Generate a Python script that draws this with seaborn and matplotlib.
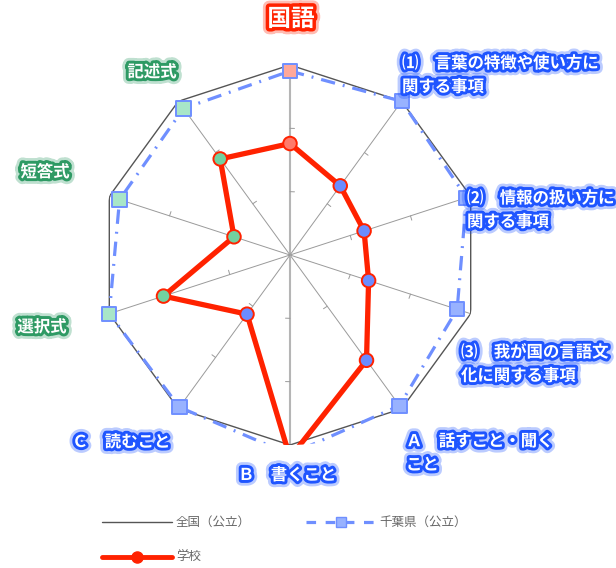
import numpy as np
import pandas as pd
import matplotlib
matplotlib.use("Agg")
import matplotlib.pyplot as plt
import matplotlib.patheffects as pe
from matplotlib.lines import Line2D
import seaborn as sns

# ================= DATOS =================
# ejes del radar (sentido horario desde arriba)
EJES = ["国語", "(1)", "(2)", "(3)", "A", "B", "C", "選択式", "短答式", "記述式"]
GRUPO = ["total", "saber", "saber", "saber", "saber", "saber", "saber",
         "forma", "forma", "forma"]
# valores normalizados (全国 = 100)
ZENKOKU = [100, 100, 100, 100, 100, 100, 100, 100, 100, 100]
CHIBA = [98.1, 100.0, 98.6, 95.5, 98.8, 103.0, 99.4, 100.0, 96.6, 97.2]
GAKKO = [75.2, 67.0, 64.6, 66.1, 81.1, 104.0, 63.1, 82.0, 58.6, 77.5]

R_MIN, R_MAX = 40, 100
TICKS = [60, 80]

# ================= ESTILO =================
ROJO = "#ff2200"
AZUL_LINEA = "#6f8fff"
AZUL_TXT = "#1f55ff"
VERDE_TXT = "#2e9a64"
RELLENO_ESCUELA = {"total": "#ff7b6b", "saber": "#6b8cff", "forma": "#72d1a0"}
RELLENO_CHIBA = {"total": "#ffa89a", "saber": "#98b2ff", "forma": "#a8e6c8"}

sns.set_style("white")
plt.rcParams["font.family"] = ["Noto Sans CJK JP", "DejaVu Sans"]

W, H = 616, 568
CX, CY, RADIO = 290, 255, 190


def px(x, y):
    return x / W, 1 - y / H


theta = np.linspace(0, 2 * np.pi, len(EJES), endpoint=False)
df = pd.DataFrame({"eje": EJES, "grupo": GRUPO, "theta": theta,
                   "zenkoku": ZENKOKU, "chiba": CHIBA, "gakko": GAKKO})
cerrado = pd.concat([df, df.iloc[[0]].assign(theta=2 * np.pi)], ignore_index=True)

fig = plt.figure(figsize=(W / 100, H / 100), dpi=100)
ax = fig.add_axes([(CX - RADIO) / W, (H - CY - RADIO) / H, 2 * RADIO / W, 2 * RADIO / H],
                  projection="polar")
ax.set_theta_zero_location("N")
ax.set_theta_direction(-1)
ax.set_ylim(R_MIN, R_MAX)
ax.grid(False)
ax.spines["polar"].set_visible(False)
ax.set_xticks([])
ax.set_yticks([])
ax.patch.set_alpha(0)

# radios y marcas
for i, t in enumerate(theta):
    vertical = i in (0, 5)
    ax.plot([t, t], [R_MIN, R_MAX], color="#b5b5b5" if vertical else "#9a9a9a",
            lw=1.5 if vertical else 0.7, zorder=1)
    for v in TICKS:
        rpx = (v - R_MIN) / (R_MAX - R_MIN) * RADIO
        ax.plot([t, t + 4.5 / rpx], [v, v], color="#9a9a9a", lw=0.7, zorder=1)

# 全国
sns.lineplot(data=cerrado, x="theta", y="zenkoku", sort=False, estimator=None,
             color="#555555", lw=1.0, ax=ax, zorder=2)
# 千葉県
sns.lineplot(data=cerrado, x="theta", y="chiba", sort=False, estimator=None,
             color=AZUL_LINEA, lw=2.3, ax=ax, zorder=3)
ax.lines[-1].set_linestyle((0, (4.5, 2.5, 0.6, 2.5)))
visibles = df[df["chiba"] <= R_MAX]
sns.scatterplot(data=visibles, x="theta", y="chiba", hue="grupo", palette=RELLENO_CHIBA,
                marker="s", s=105, edgecolor=AZUL_LINEA, linewidth=1.4,
                legend=False, ax=ax, zorder=4, clip_on=False)
# 学校
sns.lineplot(data=cerrado, x="theta", y="gakko", sort=False, estimator=None,
             color=ROJO, lw=3.8, ax=ax, zorder=5)
visibles = df[df["gakko"] <= R_MAX]
sns.scatterplot(data=visibles, x="theta", y="gakko", hue="grupo", palette=RELLENO_ESCUELA,
                marker="o", s=95, edgecolor=ROJO, linewidth=1.4,
                legend=False, ax=ax, zorder=6, clip_on=False)
ax.set_xlabel("")
ax.set_ylabel("")


def brillo(color, ancho=4.2):
    return [pe.Stroke(linewidth=ancho + 4, foreground=color, alpha=0.3),
            pe.Stroke(linewidth=ancho, foreground=color), pe.Normal()]


fig.text(*px(291, 19), "国語", ha="center", va="center", fontsize=17,
         fontweight="bold", color="white", path_effects=brillo(ROJO, 5))

etiquetas = [
    ("記述式", 152, 72, "center", VERDE_TXT),
    ("短答式", 45, 172, "center", VERDE_TXT),
    ("選択式", 42, 327, "center", VERDE_TXT),
    ("Ｃ　読むこと", 72, 442, "left", AZUL_TXT),
    ("Ｂ　書くこと", 238, 475, "left", AZUL_TXT),
    ("Ａ　話すこと・聞く\nこと", 406, 453, "left", AZUL_TXT),
    ("⑶　我が国の言語文\n化に関する事項", 461, 364, "left", AZUL_TXT),
    ("⑵　情報の扱い方に\n関する事項", 467, 210, "left", AZUL_TXT),
    ("⑴　言葉の特徴や使い方に\n関する事項", 402, 75, "left", AZUL_TXT),
]
for texto, x, y, ha, col in etiquetas:
    fig.text(*px(x, y), texto, ha=ha, va="center", fontsize=11.8, fontweight="bold",
             color="white", linespacing=1.4, path_effects=brillo(col),
             family=["Noto Sans CJK JP", "DejaVu Sans"])

# leyenda
h_zenkoku = Line2D([], [], color="#555555", lw=1.0)
h_gakko = Line2D([], [], color=ROJO, lw=3.5, marker="o", markersize=8,
                 markerfacecolor=ROJO, markeredgecolor=ROJO)
h_chiba = Line2D([], [], color=AZUL_LINEA, lw=2.3, ls=(0, (3, 3)), marker="s",
                 markersize=7, markerfacecolor="#98b2ff", markeredgecolor=AZUL_LINEA)
fig.legend([h_zenkoku, h_gakko, h_chiba], ["全国（公立）", "学校", "千葉県（公立）"],
           loc="upper left", bbox_to_anchor=px(96, 510), ncol=2, frameon=False,
           fontsize=9, labelcolor="#666666", handlelength=5.6, handletextpad=0.3,
           columnspacing=4.4, labelspacing=1.75, borderpad=0)

fig.savefig("out.png", dpi=100)
